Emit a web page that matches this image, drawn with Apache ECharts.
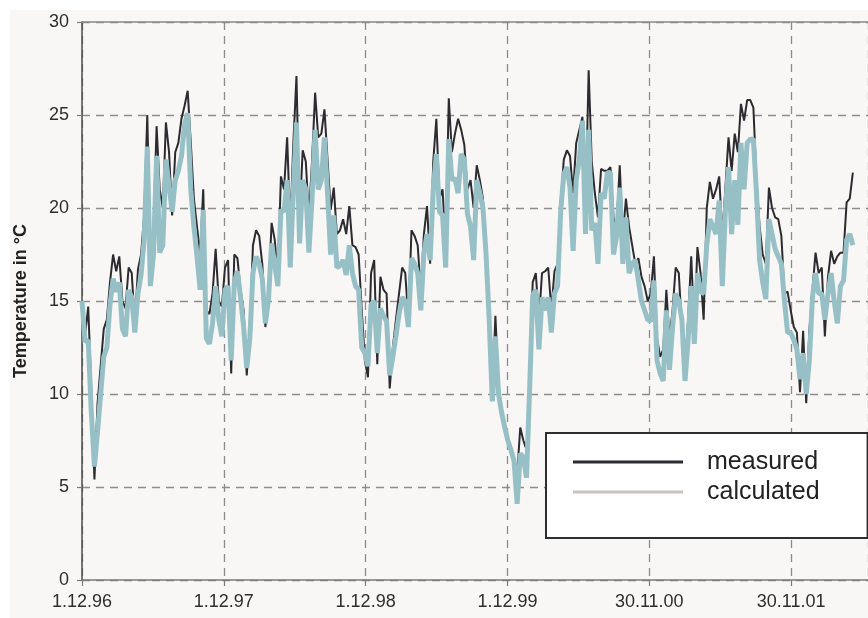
<!DOCTYPE html>
<html>
<head>
<meta charset="utf-8">
<script src="https://cdn.jsdelivr.net/npm/echarts@6/dist/echarts.min.js"></script>
<style>
  html, body { margin: 0; padding: 0; background: #ffffff; }
  #chart { width: 868px; height: 618px; }
</style>
</head>
<body>
<div id="chart"></div>
<script>
// Sampling interval of both series, in days after 1.12.96
const STEP_DAYS = 8;

// Tick labels of the date axis, one per 365 days
const xTickLabels = ['1.12.96', '1.12.97', '1.12.98', '1.12.99', '30.11.00', '30.11.01'];

// Measured room temperature, °C
const measured = [
  15.0, 13.2, 14.7, 10.2, 5.4, 9.5, 11.5, 13.5, 14.0, 16.0,
  17.5, 16.6, 17.4, 15.0, 14.6, 16.8, 16.5, 13.8, 16.7, 17.5,
  19.6, 25.0, 17.5, 19.0, 24.4, 21.0, 20.0, 24.6, 23.0, 19.6,
  23.0, 23.5, 24.8, 25.5, 26.3, 23.5, 20.5, 19.0, 17.5, 21.0,
  14.5, 14.3, 15.4, 17.8, 15.0, 14.7, 16.8, 17.2, 11.1, 17.5,
  17.3, 15.6, 14.5, 11.0, 13.5, 18.0, 18.8, 18.5, 17.0, 13.6,
  15.5, 19.2, 18.3, 16.4, 21.7, 21.0, 23.8, 19.0, 23.5, 27.1,
  19.5, 23.1, 22.5, 19.5, 22.5, 26.2, 23.8, 24.0, 25.3, 22.6,
  19.9, 21.1, 18.6, 18.8, 19.4, 18.6, 20.1, 18.0, 17.9, 17.5,
  14.5, 11.8, 10.9, 16.5, 17.2, 11.6, 16.3, 15.6, 15.4, 10.3,
  12.5, 14.0, 15.4, 16.8, 16.5, 14.0, 18.8, 18.5, 18.0, 15.5,
  18.6, 20.1, 17.0, 22.5, 24.8, 20.5, 21.0, 18.0, 25.9, 23.0,
  24.0, 24.8, 24.2, 23.4, 21.0, 21.5, 20.0, 22.3, 21.5, 20.5,
  17.8, 14.5, 10.0, 14.2, 10.5, 9.2, 8.4, 7.6, 7.0, 6.6,
  5.7, 8.2, 7.5, 7.0, 10.6, 16.0, 16.5, 14.0, 16.5, 16.6,
  16.8, 14.5, 16.6, 17.0, 20.3, 22.6, 23.1, 22.8, 20.8, 23.5,
  24.2, 24.9, 20.0, 27.4, 22.5, 20.8, 19.5, 22.1, 22.0, 22.0,
  22.2, 19.5, 19.0, 22.3, 18.5, 20.5, 19.0, 18.0, 17.0, 17.3,
  16.3, 15.8, 15.0, 15.4, 17.4, 13.0, 12.0, 12.4, 15.6, 13.0,
  14.5, 16.8, 16.5, 13.5, 11.5, 14.0, 17.4, 13.5, 17.9, 16.5,
  14.0, 20.0, 21.4, 20.5, 21.0, 21.7, 18.5, 21.1, 23.8, 22.0,
  24.0, 23.0, 25.6, 24.7, 25.8, 25.8, 25.4, 21.5, 19.0, 17.5,
  17.0, 21.1, 20.0, 19.5, 19.4, 18.5, 15.4, 15.5, 14.5, 13.6,
  13.3, 10.1, 13.4, 9.5, 13.4, 15.6, 17.6, 16.5, 16.8, 13.1,
  16.3, 17.7, 17.0, 17.4, 17.6, 17.6, 20.3, 20.5, 21.9
];

// Calculated room temperature, °C
const calculated = [
  15.0, 12.8, 12.9, 9.0, 6.1, 8.0, 10.0, 12.0, 12.5, 14.8,
  16.2, 15.5, 16.0, 13.5, 13.1, 15.6, 15.2, 13.3, 15.4, 16.4,
  18.3, 23.3, 15.8, 17.5, 22.8, 17.6, 18.0, 22.6, 21.2, 19.8,
  21.5, 22.0, 22.8, 24.5, 25.1, 21.0, 19.0, 17.4, 15.6, 19.9,
  13.0, 12.7, 13.8, 15.8, 14.0, 13.1, 15.6, 15.8, 11.8, 16.0,
  16.6, 15.2, 13.6, 11.4, 13.0, 16.5, 17.4, 17.0, 16.2, 13.8,
  15.1, 18.1, 17.0, 15.8, 19.9, 19.8, 21.5, 16.8, 21.0, 24.6,
  18.1, 21.5, 21.0, 17.6, 20.5, 24.2, 21.0, 21.5, 23.8, 20.8,
  17.5, 19.6, 16.8, 16.9, 17.2, 16.4, 18.0, 16.5, 15.8, 15.6,
  12.5, 12.2, 11.5, 14.8, 15.0, 12.2, 14.6, 14.2, 13.9, 11.0,
  12.0, 13.1, 14.3, 15.2, 15.0, 13.6, 17.3, 17.0, 16.5, 14.5,
  17.6, 18.6, 17.2, 21.0, 22.9, 19.8, 19.6, 16.8, 23.7, 21.5,
  21.6, 20.8, 22.9, 22.6, 19.7, 19.0, 17.2, 21.5, 20.8, 20.0,
  17.5, 14.0, 9.6, 13.1, 10.0, 9.0, 8.2, 7.5, 7.0, 6.4,
  4.1, 6.8, 6.6, 5.5, 10.2, 15.3, 15.6, 12.4, 15.2, 14.5,
  15.2, 13.3, 15.4, 15.8, 19.8, 21.8, 22.2, 21.1, 17.7, 21.5,
  22.6, 24.7, 18.6, 24.2, 18.8, 19.2, 17.0, 20.8, 20.5, 21.9,
  21.9, 17.5, 18.5, 21.1, 17.0, 19.5, 16.5, 17.0, 17.2, 16.1,
  15.0, 14.5, 14.0, 13.9, 16.1, 11.8, 11.1, 10.7, 14.5, 11.3,
  13.6, 15.4, 15.0, 14.0, 10.7, 12.9, 15.8, 12.7, 16.5, 15.5,
  15.4, 18.0, 19.4, 19.0, 18.6, 20.4, 15.8, 19.9, 22.2, 18.6,
  21.5, 19.1, 23.5, 21.0, 23.5, 23.7, 23.7, 20.8, 17.2, 16.0,
  15.1, 19.4, 18.6, 17.8, 17.4, 17.0, 15.0, 13.3, 13.3, 12.9,
  12.4, 10.8, 12.2, 10.0, 11.8, 15.2, 16.5, 15.4, 15.4, 14.0,
  15.4, 16.5, 15.0, 13.8, 15.8, 16.1, 18.3, 18.6, 18.0
];

const FONT = '"Liberation Sans", Arial, Helvetica, sans-serif';
const toPairs = arr => arr.map((v, i) => [i * STEP_DAYS, v]);

const chart = echarts.init(document.getElementById('chart'), null, { renderer: 'canvas' });

chart.setOption({
  animation: false,
  backgroundColor: '#f8f7f5',
  textStyle: { fontFamily: FONT },
  graphic: [
    { type: 'rect', left: 0, top: 0, shape: { width: 868, height: 10 }, style: { fill: '#ffffff' }, silent: true },
    { type: 'rect', left: 0, top: 0, shape: { width: 10, height: 618 }, style: { fill: '#ffffff' }, silent: true }
  ],
  grid: { left: 82, top: 22, right: 0, bottom: 38, containLabel: false },
  legend: {
    left: 546,
    top: 433,
    orient: 'vertical',
    backgroundColor: '#ffffff',
    borderColor: '#2e2e2e',
    borderWidth: 2,
    padding: [14, 48, 31, 27],
    itemGap: 0,
    itemWidth: 110,
    itemHeight: 3,
    selectedMode: false,
    textStyle: { fontSize: 25, color: '#222222', lineHeight: 30, padding: [0, 0, 0, 19], fontFamily: FONT },
    data: [
      { name: 'measured', icon: 'rect', itemStyle: { color: '#2b2b30' } },
      { name: 'calculated', icon: 'rect', itemStyle: { color: '#cbc3bb' } }
    ]
  },
  xAxis: [
    {
      type: 'value',
      min: 0,
      max: 2023,
      interval: 365,
      axisLine: { show: true, lineStyle: { color: '#7a7a7a', width: 1.5 } },
      axisTick: { show: true, length: 6, lineStyle: { color: '#7a7a7a', width: 1.2 } },
      axisLabel: {
        fontSize: 18,
        color: '#2e2e2e',
        margin: 13,
        showMaxLabel: false,
        formatter: v => {
          const k = Math.round(v / 365);
          return (Math.abs(v - k * 365) < 1e-6 && xTickLabels[k] !== undefined) ? xTickLabels[k] : '';
        }
      },
      splitLine: { show: true, lineStyle: { color: '#8c8c8c', width: 1.3, type: [8, 6] } }
    },
    {
      type: 'value',
      position: 'top',
      min: 0,
      max: 2023,
      axisLine: { show: true, lineStyle: { color: '#8a8a8a', width: 1.5 } },
      axisTick: { show: false },
      axisLabel: { show: false },
      splitLine: { show: false }
    }
  ],
  yAxis: {
    type: 'value',
    min: 0,
    max: 30,
    interval: 5,
    name: 'Temperature in °C',
    nameLocation: 'middle',
    nameRotate: 90,
    nameGap: 52,
    nameTextStyle: { fontSize: 18, fontWeight: 'bold', color: '#222222', fontFamily: FONT },
    axisLine: { show: true, lineStyle: { color: '#4a4a4a', width: 1.5 } },
    axisTick: { show: true, length: 5, lineStyle: { color: '#7a7a7a', width: 1.2 } },
    axisLabel: { fontSize: 18, color: '#2e2e2e', margin: 13 },
    splitLine: { show: true, lineStyle: { color: '#8c8c8c', width: 1.3, type: [8, 6] } }
  },
  series: [
    {
      name: 'measured',
      type: 'line',
      data: toPairs(measured),
      showSymbol: false,
      symbol: 'none',
      lineStyle: { color: '#2b2b30', width: 2 },
      itemStyle: { color: '#2b2b30' },
      z: 2
    },
    {
      name: 'calculated',
      type: 'line',
      data: toPairs(calculated),
      showSymbol: false,
      symbol: 'none',
      lineStyle: { color: '#96c0c6', width: 5 },
      itemStyle: { color: '#96c0c6' },
      z: 3
    }
  ]
});
</script>
</body>
</html>
